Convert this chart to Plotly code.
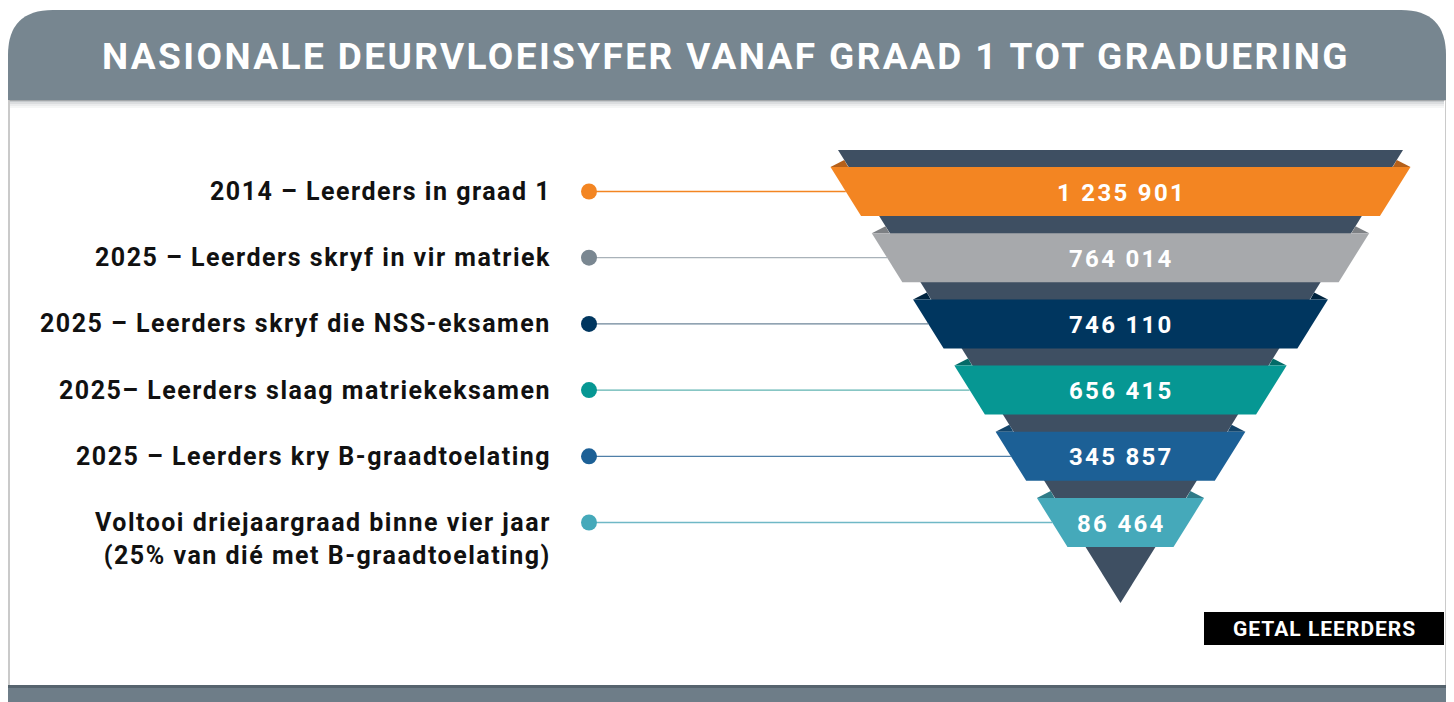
import plotly.graph_objects as go

# ---------------- data ----------------
title = "NASIONALE DEURVLOEISYFER VANAF GRAAD 1 TOT GRADUERING"
stages = [
    "2014 – Leerders in graad 1",
    "2025 – Leerders skryf in vir matriek",
    "2025 – Leerders skryf die NSS-eksamen",
    "2025– Leerders slaag matriekeksamen",
    "2025 – Leerders kry B-graadtoelating",
    "Voltooi driejaargraad binne vier jaar<br>(25% van dié met B-graadtoelating)",
]
learners = [1235901, 764014, 746110, 656415, 345857, 86464]
band_colors = ["#f38522", "#a7a9ac", "#00365f", "#069793", "#1c6096", "#45a9ba"]
fold_colors = ["#b5601a", "#7d8084", "#00243f", "#046b68", "#134469", "#2f7b88"]
dot_colors = ["#f38522", "#7a8791", "#00365f", "#069793", "#1c6096", "#45a9ba"]
line_colors = ["#f38522", "#a9b2b9", "#6d8599", "#5fb3b1", "#4f7fa8", "#6fb8c6"]
unit_label = "GETAL LEERDERS"

# ---------------- layout geometry ----------------
W, H = 1454, 702
OFF = 8  # page body margin
cx = 1120.5
funnel_top, funnel_apex, funnel_half = 150, 603, 282.5
slope = funnel_half / (funnel_apex - funnel_top)
band_top0, period, band_h = 167, 66.2, 49
band_over = 290 - (funnel_half - (band_top0 - funnel_top) * slope)
dot_x, label_x = 589, 553


def fmt(v):
    return f"{v:,}".replace(",", " ")


def spaced(t, px):
    return f'<span style="letter-spacing:{px}px">{t}</span>'


def half_dark(y):
    return funnel_half - (y - funnel_top) * slope


fig = go.Figure()
shapes = []
ann = []

# card header + body
r = 45
hx0, hx1, hy0, hy1 = 8, 1446, 10, 100
path = (f"M {hx0},{hy1} L {hx0},{hy0 + r} Q {hx0},{hy0} {hx0 + r},{hy0} "
        f"L {hx1 - r},{hy0} Q {hx1},{hy0} {hx1},{hy0 + r} L {hx1},{hy1} Z")
shapes.append(dict(type="rect", xref="x", yref="y", x0=9, x1=1446, y0=100, y1=686,
                   fillcolor="#ffffff", line=dict(color="#b9b9b9", width=1.5), layer="below"))
for k, op in enumerate([0.35, 0.22, 0.12, 0.06]):
    shapes.append(dict(type="rect", xref="x", yref="y", x0=10, x1=1444, y0=100 + 2 * k,
                       y1=102 + 2 * k, fillcolor=f"rgba(90,100,110,{op})", line=dict(width=0), layer="below"))
shapes.append(dict(type="path", path=path, xref="x", yref="y", fillcolor="#778690",
                   line=dict(width=0), layer="below"))
shapes.append(dict(type="rect", xref="x", yref="y", x0=8, x1=1446, y0=685, y1=702,
                   fillcolor="#6e7d88", line=dict(width=0), layer="below"))
shapes.append(dict(type="rect", xref="x", yref="y", x0=8, x1=1446, y0=685, y1=688,
                   fillcolor="#56646e", line=dict(width=0), layer="below"))

ann.append(dict(x=726, y=56, xref="x", yref="y", text=f"<b>{spaced(title, 2.4)}</b>", showarrow=False,
                font=dict(family="Roboto", size=37, color="#ffffff"), xanchor="center", yanchor="middle"))

# dark funnel
fig.add_trace(go.Scatter(
    x=[cx - funnel_half, cx + funnel_half, cx, cx - funnel_half],
    y=[funnel_top, funnel_top, funnel_apex, funnel_top],
    fill="toself", fillcolor="#3e4f62", line=dict(width=0), mode="lines",
    hoverinfo="skip", showlegend=False))

for i, (lab, val) in enumerate(zip(stages, learners)):
    yt = band_top0 + i * period
    yb = yt + band_h
    yc = (yt + yb) / 2
    ht = half_dark(yt) + band_over
    hb = half_dark(yb) + band_over
    hc = (ht + hb) / 2
    for sgn in (-1, 1):
        xo = cx + sgn * ht
        xi = cx + sgn * (half_dark(yt - 7))
        fig.add_trace(go.Scatter(
            x=[xo, xi, xi - sgn * 4, xo], y=[yt, yt - 7, yt, yt],
            fill="toself", fillcolor=fold_colors[i], line=dict(width=0), mode="lines",
            hoverinfo="skip", showlegend=False))
    fig.add_trace(go.Scatter(
        x=[cx - ht, cx + ht, cx + hb, cx - hb, cx - ht],
        y=[yt, yt, yb, yb, yt],
        fill="toself", fillcolor=band_colors[i], line=dict(width=0), mode="lines",
        hoverinfo="skip", showlegend=False, name=lab.replace("<br>", " ")))
    ann.append(dict(x=cx + 1, y=yc + 1, xref="x", yref="y", text=f"<b>{spaced(fmt(val), 2.3)}</b>",
                    showarrow=False, font=dict(family="Roboto", size=24, color="#ffffff"),
                    xanchor="center", yanchor="middle"))
    fig.add_trace(go.Scatter(x=[dot_x, cx - hc], y=[yc, yc], mode="lines",
                             line=dict(color=line_colors[i], width=1.3),
                             hoverinfo="skip", showlegend=False))
    nlines = lab.count("<br>") + 1
    lines = lab.split("<br>")
    txt = "<br>".join(f"<b>{spaced(l, 1.5)}</b>" for l in lines)
    if nlines == 1:
        ann.append(dict(x=label_x, y=yc, xref="x", yref="y", text=txt, showarrow=False,
                        font=dict(family="Roboto", size=25, color="#111111"),
                        xanchor="right", yanchor="middle", align="right"))
    else:
        ann.append(dict(x=label_x, y=yc - 17, xref="x", yref="y", text=txt, showarrow=False,
                        font=dict(family="Roboto", size=25, color="#111111"),
                        xanchor="right", yanchor="top", align="right"))

ycs = [band_top0 + i * period + band_h / 2 for i in range(len(learners))]
fig.add_trace(go.Scatter(x=[dot_x] * len(learners), y=ycs, mode="markers",
                         marker=dict(size=16, color=dot_colors, line=dict(width=0)),
                         hoverinfo="skip", showlegend=False))

shapes.append(dict(type="rect", xref="x", yref="y", x0=1204, x1=1444, y0=612, y1=645,
                   fillcolor="#000000", line=dict(width=0)))
ann.append(dict(x=1324, y=629, xref="x", yref="y", text=f"<b>{spaced(unit_label, 1)}</b>", showarrow=False,
                font=dict(family="Roboto", size=21, color="#ffffff"), xanchor="center", yanchor="middle"))

fig.update_layout(
    width=W - OFF, height=H - OFF, margin=dict(l=0, r=0, t=0, b=0),
    paper_bgcolor="#ffffff", plot_bgcolor="#ffffff",
    xaxis=dict(range=[OFF, W], visible=False, fixedrange=True),
    yaxis=dict(range=[H, OFF], visible=False, fixedrange=True),
    shapes=shapes, annotations=ann, showlegend=False,
)
fig.write_html("out.html", config={"displayModeBar": False})
